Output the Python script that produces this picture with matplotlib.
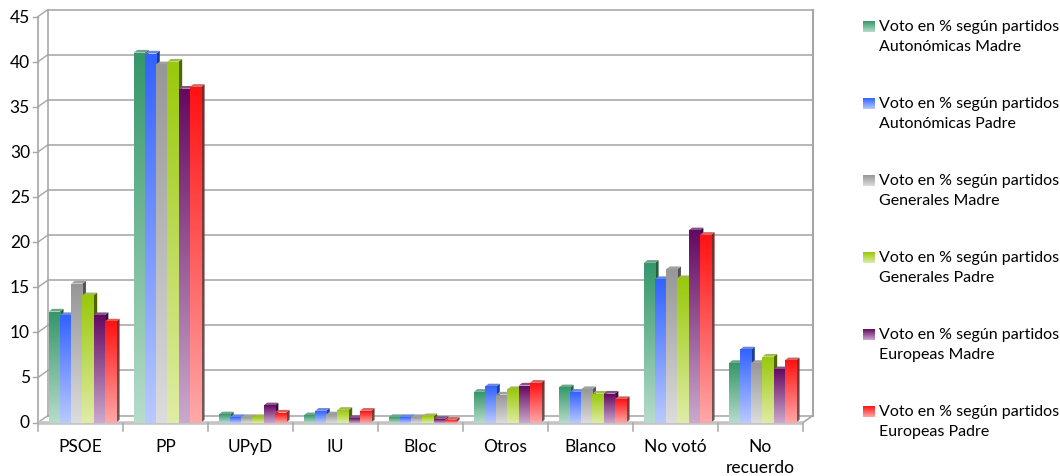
import numpy as np
import matplotlib.pyplot as plt
from matplotlib.colors import to_rgb
from matplotlib.patches import Polygon

plt.rcParams['font.family'] = ['Lato', 'DejaVu Sans']

categories = ['PSOE', 'PP', 'UPyD', 'IU', 'Bloc', 'Otros', 'Blanco', 'No votó', 'No\nrecuerdo']
series_names = [
    'Voto en % según partidos\nAutonómicas Madre',
    'Voto en % según partidos\nAutonómicas Padre',
    'Voto en % según partidos\nGenerales Madre',
    'Voto en % según partidos\nGenerales Padre',
    'Voto en % según partidos\nEuropeas Madre',
    'Voto en % según partidos\nEuropeas Padre',
]
aut_madre = [12.3, 41.0, 0.9, 0.8, 0.6, 3.4, 3.9, 17.7, 6.6]
aut_padre = [11.9, 40.9, 0.6, 1.3, 0.6, 4.0, 3.4, 15.9, 8.1]
gen_madre = [15.4, 39.7, 0.6, 0.9, 0.6, 3.1, 3.7, 17.0, 6.6]
gen_padre = [14.1, 40.0, 0.6, 1.4, 0.7, 3.7, 3.2, 16.0, 7.3]
eur_madre = [11.9, 37.0, 1.9, 0.5, 0.4, 4.1, 3.2, 21.3, 5.9]
eur_padre = [11.2, 37.2, 1.1, 1.3, 0.3, 4.4, 2.6, 20.8, 6.9]
series = [aut_madre, aut_padre, gen_madre, gen_padre, eur_madre, eur_padre]
yticks = list(range(0, 50, 5))

# (top of bar, bottom of bar, side face)
palette = [
    ('#36976a', '#b6dccb', '#23603f'),
    ('#3363ff', '#b9c9ff', '#1f3c99'),
    ('#979797', '#dcdcdc', '#555555'),
    ('#99c90a', '#e0eca6', '#4d6600'),
    ('#650a62', '#caa8cd', '#3a0a38'),
    ('#ff1212', '#ffa8a8', '#7a2a2a'),
]

W, H = 1060, 477
fig = plt.figure(figsize=(W / 100, H / 100), dpi=100)
ax = fig.add_axes([0, 0, 1, 1])
ax.set_axis_off()

# pixel mapping of the front plane
X0PX, CATPX = 38, 85.0
Y0PX, UNITPX = 423.5, 9.022


def px2x(px):
    return (px - X0PX) / CATPX - 0.5


def py2y(py):
    return (Y0PX - py) / UNITPX


ax.set_xlim(px2x(0), px2x(W))
ax.set_ylim(py2y(H), py2y(0))

dx, dy = 10.0 / CATPX, 7.0 / UNITPX       # back wall offset
bdx, bdy = 3.5 / CATPX, 2.7 / UNITPX      # bar depth
bw = 11.2 / CATPX
start = -0.372
n = len(categories)
ymax = yticks[-1]
grid_c = '#a6a6a6'

# back wall, grid and axes
for v in yticks:
    ax.plot([-0.5 + dx, n - 0.5 + dx], [v + dy, v + dy], color=grid_c, lw=1.15, zorder=1)
    ax.plot([-0.5, -0.5 + dx], [v, v + dy], color=grid_c, lw=1.0, zorder=1)
    ax.plot([px2x(33), -0.5], [v, v], color=grid_c, lw=1.0, zorder=1)
    ax.text(px2x(30), v, str(v), ha='right', va='center', fontsize=12.5, color='black')
ax.plot([-0.5 + dx, -0.5 + dx], [dy, ymax + dy], color=grid_c, lw=1.15, zorder=1)
ax.plot([n - 0.5 + dx, n - 0.5 + dx], [dy, ymax + dy], color=grid_c, lw=1.5, zorder=1)
ax.plot([-0.5, -0.5], [0, ymax], color=grid_c, lw=1.2, zorder=1)
ax.plot([n - 0.5, n - 0.5 + dx], [0, dy], color=grid_c, lw=1.2, zorder=1)
ax.plot([-0.5, n - 0.5], [0, 0], color='#c4c4c4', lw=2.6, zorder=1, solid_capstyle='butt')
for i in range(n + 1):
    ax.plot([i - 0.5, i - 0.5], [0, py2y(432)], color=grid_c, lw=1.1, zorder=1)
for i, c in enumerate(categories):
    ax.text(i, py2y(439), c, ha='center', va='top', fontsize=12.5, linespacing=1.4)


def grad(top, bot, n_=64):
    t = np.linspace(0, 1, n_)[:, None]
    a, b = np.array(to_rgb(top)), np.array(to_rgb(bot))
    return (b * (1 - t) + a * t)[:, None, :]


z = 2
for i in range(n):
    for k, vals in enumerate(series):
        h = vals[i]
        top, bot, side = palette[k]
        x0 = i + start + k * bw
        x1 = x0 + bw
        # side face
        sp = Polygon([(x1, 0), (x1 + bdx, bdy), (x1 + bdx, h + bdy), (x1, h)],
                     closed=True, facecolor='none', edgecolor='none')
        ax.add_patch(sp)
        im = ax.imshow(grad(side, '#6e5a5a' if k == 5 else side), extent=(x1, x1 + bdx, 0, h + bdy),
                       origin='lower', aspect='auto', interpolation='bilinear', zorder=z)
        im.set_clip_path(sp)
        # top face
        tc = np.array(to_rgb(top)) * 0.55 + 0.45 * np.array(to_rgb(side))
        tc = tc * 0.7 + 0.3
        ax.add_patch(Polygon([(x0, h), (x1, h), (x1 + bdx, h + bdy), (x0 + bdx, h + bdy)],
                             closed=True, facecolor=tc, edgecolor='none', zorder=z))
        # front face
        ax.imshow(grad(top, bot), extent=(x0, x1, 0, h), origin='lower', aspect='auto',
                  interpolation='bilinear', zorder=z + 0.5)
        z += 1

# legend
for k, name in enumerate(series_names):
    ty = 21.5 + k * 77.0
    top, bot, _ = palette[k]
    ax.imshow(grad(top, bot), extent=(px2x(863), px2x(874), py2y(ty + 11), py2y(ty)),
              origin='lower', aspect='auto', interpolation='bilinear', zorder=z)
    ax.text(px2x(879), py2y(ty - 1.5), name, ha='left', va='top', fontsize=11.5, linespacing=1.55)

ax.set_xlim(px2x(0), px2x(W))
ax.set_ylim(py2y(H), py2y(0))
fig.savefig('out.png', dpi=100)
